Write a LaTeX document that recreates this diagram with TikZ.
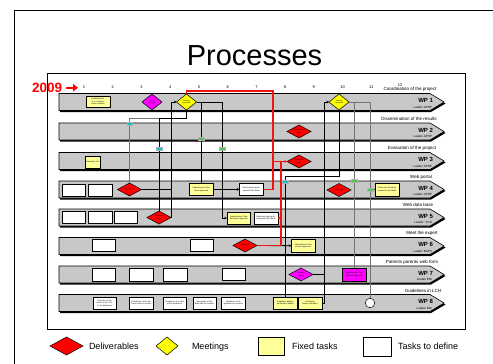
\documentclass[tikz,border=0pt]{standalone}
\usepackage{fontspec}
\setmainfont{Liberation Sans}
\usetikzlibrary{shapes.geometric,arrows.meta,calc,shadows}
\definecolor{barg}{RGB}{200,200,200}
\definecolor{yfix}{RGB}{255,255,153}
\definecolor{ymeet}{RGB}{255,255,0}
\definecolor{mag}{RGB}{255,0,255}
\definecolor{redd}{RGB}{255,0,0}
\definecolor{redl}{RGB}{240,20,20}
\definecolor{cyanm}{RGB}{0,200,210}
\definecolor{greenm}{RGB}{80,200,80}
\begin{document}
\begin{tikzpicture}[x=1pt,y=-1pt,
  every node/.style={inner sep=0pt,outer sep=0pt},
  smalltxt/.style={font=\fontsize{2}{2.3}\selectfont,align=center},
  taskbox/.style={rectangle,draw=black,line width=0.5pt,minimum width=23.5pt,minimum height=12.5pt,text width=21pt,smalltxt,drop shadow={shadow xshift=0.6pt,shadow yshift=-0.7pt,fill=black!60,opacity=1}},
  wbox/.style={taskbox,fill=white},
  ybox/.style={taskbox,fill=yfix},
  mbox/.style={taskbox,fill=mag},
  dia/.style={diamond,draw=black,line width=0.5pt,minimum width=24pt,minimum height=13pt},
  delv/.style={dia,fill=redd},
  meet/.style={dia,fill=ymeet,minimum width=20pt,minimum height=16pt},
  kick/.style={dia,fill=mag},
  conn/.style={line width=0.85pt,black},
  gconn/.style={line width=1pt,black!55},
  rconn/.style={line width=1.35pt,redl},
  endarrow/.style={-{Stealth[length=2.6pt,width=2.6pt]}},
  mk/.style={rectangle,minimum width=5.5pt,minimum height=3pt,draw=black!30,line width=0.2pt},
  cmk/.style={mk,fill=cyanm},
  gmk/.style={mk,fill=greenm},
  wptitle/.style={font=\fontsize{4.5}{5}\selectfont},
  legtxt/.style={font=\fontsize{9}{10}\selectfont,anchor=base west},
  dtxt/.style={font=\fontsize{1.8}{2.1}\selectfont,align=center,text width=11pt}
]
\useasboundingbox (0,0) rectangle (493,364);
% frames
\draw[line width=0.8pt] (493,10) -- (14,10) -- (14,364);
\draw[line width=0.7pt] (47,73) rectangle (465,329);
% title
\node[font=\fontsize{29}{32}\selectfont,anchor=base] (title) at (254.5,65.5) {Processes};
% year
\node[font=\fontsize{13.5}{15}\selectfont\bfseries,text=redd,anchor=base west] (yr) at (32,92.7) {2009};
\coordinate (ya) at (66,87.7);
\coordinate (yb) at (78,87.7);
\draw[redd,line width=2pt,-{Triangle[length=5pt,width=7.5pt]}] (ya) -- (yb);
% months
\foreach \i in {1,...,11}
  \node[font=\fontsize{4}{4.5}\selectfont] (mo\i) at ({84+(\i-1)*28.73},87.5) {\i};
\node[font=\fontsize{4}{4.5}\selectfont] (mo12) at (400,85.3) {12};
% bars
\foreach \n/\yy/\tx/\ttl/\ldr in {
  1/102/410/Coordination of the project/Leader APHP,
  2/131.5/409/Dissemination of the results/Leader APHP,
  3/161/412/Evaluation of the project/Leader APHP,
  4/189.5/421/Web portal/Leader APHP,
  5/217.5/418/Web data base/Leader: CCR,
  6/246/422/Meet the expert/Leader BUPS,
  7/274.5/412/Patients parents web form/Leader ERI,
  8/303/423/Guidelines in LCH/Leader Bdx}
{
  \fill[black] (60,\yy-7) -- (431,\yy-7) -- (445.5,\yy+1.5) -- (431,\yy+10) -- (60,\yy+10) -- cycle;
  \filldraw[fill=barg,draw=black,line width=0.6pt] (59,\yy-8.5) -- (430,\yy-8.5) -- (444,\yy) -- (430,\yy+8.5) -- (59,\yy+8.5) -- cycle;
  \node[font=\fontsize{6}{7}\selectfont\bfseries,anchor=east] (wp\n) at (433,\yy-1.5) {WP \n};
  \node[font=\fontsize{3}{3.5}\selectfont,anchor=east] (ld\n) at (432,\yy+5) {\ldr};
  \node[wptitle] (tt\n) at (\tx,\yy-12.2) {\ttl};
}
% WP1
\node[ybox,minimum height=11pt] (t1) at (98,101.5) {Establishment of a communication network};
\node[kick,minimum width=20pt,minimum height=16pt] (m1) at (152,102) {};
\node[dtxt] (m1t) at (m1) {Kick off meeting};
\node[meet] (d1) at (186.5,102) {};
\node[dtxt] (d1t) at (d1) {Steering committee};
\node[meet] (d2) at (339,102) {};
\node[dtxt] (d2t) at (d2) {Steering committee};
% WP2
\node[delv] (r2) at (299,131.5) {};
\node[dtxt] (r2t) at (r2) {Dissemination plan};
% WP3
\node[ybox,minimum width=15pt,text width=14pt,minimum height=12pt] (t3) at (92.5,162) {Evaluation tool};
\node[delv] (r3) at (299,161.5) {};
\node[dtxt] (r3t) at (r3) {Evaluation report};
% WP4
\node[wbox] (w4a) at (73.5,190) {};
\node[wbox] (w4b) at (100,190) {};
\node[delv] (r4) at (129.5,189.5) {};
\node[dtxt] (r4t) at (r4) {Portal design};
\node[ybox] (y4a) at (201.3,189.4) {Subcontractor Plan done approved};
\node[wbox] (w4c) at (251.3,189.4) {Portal during development Plan done};
\node[delv] (r4b) at (339,190) {};
\node[dtxt] (r4bt) at (r4b) {Web portal};
\node[ybox] (y4b) at (387,189.5) {Portal site should be opened to the public};
% WP5
\node[wbox] (w5a) at (73.5,217) {};
\node[wbox] (w5b) at (100,217) {};
\node[wbox] (w5c) at (125.5,217) {};
\node[delv] (r5) at (159,217.5) {};
\node[dtxt] (r5t) at (r5) {Data base design};
\node[ybox] (y5) at (238.7,218) {Subcontractor Plan data base approved};
\node[wbox] (w5d) at (266,218) {Data base during development Plan done};
% WP6
\node[wbox] (w6a) at (103.5,245) {};
\node[wbox] (w6b) at (201.7,245) {};
\node[delv] (r6) at (245,245.5) {};
\node[dtxt] (r6t) at (r6) {Expert list};
\node[ybox] (y6) at (303,245.7) {Subcontractor Plan content approved};
% WP7
\node[wbox] (w7a) at (103.5,274.5) {};
\node[wbox] (w7b) at (141,274.5) {};
\node[wbox] (w7c) at (175,274.5) {};
\node[wbox] (w7d) at (233.7,274.3) {};
\node[kick] (m7) at (301,274.5) {};
\node[dtxt] (m7t) at (m7) {Technical meeting};
\node[mbox] (mg7) at (354.2,274.5) {Subcontractor Plan different approved};
% WP8
\node[wbox] (w8a) at (104.5,303) {Selection of the areas of the LCH to be discussed};
\node[wbox] (w8b) at (141.3,303) {Distribution of the different parts to experts};
\node[wbox] (w8c) at (174.5,303) {Production of a draft of the guidelines};
\node[wbox] (w8d) at (204.5,303) {Discussion of the draft with the experts};
\node[wbox] (w8e) at (233.3,303) {Validation of the guidelines by experts};
\node[ybox] (y8a) at (285.3,303) {Guidelines diagnosis/therapy drafted};
\node[ybox] (y8b) at (310,303) {Guidelines follow-up drafted};
\node[circle,draw=black,line width=0.5pt,fill=white,minimum size=9.6pt] (c8) at (370,303) {};
% connectors
\coordinate (j1) at (186.5,118);
\coordinate (j2) at (159,118);
\coordinate (k1) at (171,102);
\coordinate (k2) at (222,102);
\draw[conn] (d1.south) -- (j1) -| (r5.north);
\draw[gconn] (j2) -| (r4.north);
\draw[conn,endarrow] (r4.east) -| (k1) -- (d1.west);
\draw[conn] (r5.east) -| (k1);
\draw[conn] (d1.east) -| (y4a.north);
\draw[conn,endarrow] (d1.east) -- (k2) |- (y5.west);
\draw[conn,endarrow] (y4a.east) -- (w4c.west);
% red
\coordinate (rv1) at (273,91);
\coordinate (rv0) at (186.5,91);
\coordinate (rv2) at (281,161.5);
\draw[conn,endarrow] (r6.east) -- (y6.west);
\draw[rconn] (w4c.east) -| (rv1) -- (rv0) -- (d1.north);
\draw[rconn,endarrow] (r3.west -| rv1) -- (r3.west);
\draw[rconn] (r6.east) -- (r6.east -| rv2) -- (rv2);
\draw[rconn] (w5d.east) -- (w5d.east -| rv2);
% right group
\coordinate (k3) at (285.3,176);
\coordinate (k4) at (324,102);
\draw[conn] (d2.south) |- (k3) -- (y8a.north);
\draw[conn,endarrow] (y8b.east) -| (k4) -- (d2.west);
\draw[conn] (m7.east) -- (m7.east -| k4);
\draw[gconn] (d2.east) -| (mg7.north);
\draw[gconn] (d2.east) -| (c8.north);
\draw[conn,endarrow] (c8.north |- y4b.west) -- (y4b.west);
% markers
\node[cmk] (mk1) at (129.5,123.3) {};
\node[cmk] (mk2) at (159,149) {};
\node[cmk] (mk3) at (285.3,181.7) {};
\node[gmk] (mk4) at (201.3,139) {};
\node[gmk] (mk5) at (222,149) {};
\node[gmk] (mk6) at (354.2,181) {};
\node[gmk] (mk7) at (370,190) {};
% legend
\node[diamond,draw=black,line width=0.5pt,fill=redd,minimum width=33pt,minimum height=18pt] (lg1) at (66.5,346) {};
\node[legtxt] (lt1) at (89,349.5) {Deliverables};
\node[diamond,draw=black,line width=0.5pt,fill=ymeet,minimum width=22pt,minimum height=18pt] (lg2) at (167,346) {};
\node[legtxt] (lt2) at (192,349.5) {Meetings};
\node[rectangle,draw=black,line width=0.5pt,fill=yfix,minimum width=26pt,minimum height=18pt] (lg3) at (271,346) {};
\node[legtxt] (lt3) at (292,349.5) {Fixed tasks};
\node[rectangle,draw=black,line width=0.5pt,fill=white,minimum width=28pt,minimum height=19pt] (lg4) at (377,346.5) {};
\node[legtxt] (lt4) at (398,349.5) {Tasks to define};
\end{tikzpicture}
\end{document}
